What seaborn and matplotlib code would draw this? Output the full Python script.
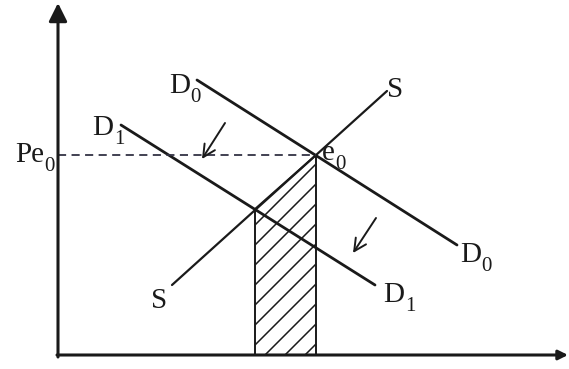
import pandas as pd
import matplotlib.pyplot as plt
import seaborn as sns

# Curves as (quantity, price) end points
d0_q = [13.9, 39.9]
d0_p = [27.5, 11.0]
d1_q = [6.3, 31.7]
d1_p = [23.0, 7.0]
s_q = [11.4, 32.9]
s_p = [7.0, 26.4]

# Equilibrium price and the shaded strip under the supply curve
pe0 = 20.0
e0_q = 25.8
shade_q = [19.7, 25.8]
shade_top = [14.6, 20.0]

# Demand shift arrows: (tail q, tail p, head q, head p)
shift_arrows = [(16.7, 23.2, 14.4, 19.6), (31.8, 13.7, 29.5, 10.2)]

# Axis extents
q_max = 51.0
p_max = 35.2

# render at 120 dpi so the hatch spacing matches; point sizes scaled back
DPI = 120
k = 100 / DPI

sns.set_style("white")
plt.rcParams['font.family'] = ['Liberation Serif', 'DejaVu Serif']
plt.rcParams['hatch.linewidth'] = 1.1 * k

ink = '#1a1a1a'

fig = plt.figure(figsize=(569 / DPI, 369 / DPI), dpi=DPI)
ax = fig.add_axes([0, 0, 1, 1])
ax.set_xlim(-5.8, 51.1)
ax.set_ylim(-1.4, 35.5)
ax.axis('off')

curves = pd.DataFrame({
    'Q': d0_q + d1_q + s_q,
    'P': d0_p + d1_p + s_p,
    'curve': ['D0'] * 2 + ['D1'] * 2 + ['S'] * 2,
})
sns.lineplot(data=curves[curves.curve != 'S'], x='Q', y='P', units='curve',
             estimator=None, color=ink, lw=2.0 * k, ax=ax)
sns.lineplot(data=curves[curves.curve == 'S'], x='Q', y='P',
             estimator=None, color=ink, lw=1.6 * k, ax=ax)

# hatched area
ax.fill_between(shade_q, 0, shade_top, facecolor='none', edgecolor=ink,
                hatch='//', lw=1.4 * k)

# dashed price line
ax.plot([0, e0_q], [pe0, pe0], ls=(0, (4.5, 3)), color='#333344', lw=1.3 * k)

# axes with arrows
ax.annotate('', xy=(0, p_max), xytext=(0, -0.2),
            arrowprops=dict(arrowstyle='-|>,head_length=0.5,head_width=0.25',
                            color=ink, lw=2.2 * k, mutation_scale=22 * k,
                            shrinkA=0, shrinkB=0))
ax.annotate('', xy=(q_max, 0), xytext=(-0.1, 0),
            arrowprops=dict(arrowstyle='-|>', color=ink, lw=2.2 * k,
                            mutation_scale=14 * k, shrinkA=0, shrinkB=0))

for tq, tp, hq, hp in shift_arrows:
    ax.annotate('', xy=(hq, hp), xytext=(tq, tp),
                arrowprops=dict(arrowstyle='->', color=ink, lw=1.4 * k,
                                mutation_scale=22 * k, shrinkA=0, shrinkB=0))


def label(q, p, main, sub=None, ha='left'):
    t = ax.text(q, p, main, ha=ha, va='baseline', fontsize=21 * k, color=ink)
    if sub is not None:
        ax.annotate(sub, xy=(1, 0), xycoords=t, xytext=(0.5 * k, -5.5 * k),
                    textcoords='offset points', ha='left', va='bottom',
                    fontsize=15 * k, color=ink)
    return t


label(-1.4, 19.3, 'Pe', '0', ha='right')
label(11.1, 26.2, 'D', '0')
label(3.4, 22.0, 'D', '1')
label(32.9, 25.8, 'S')
label(26.4, 19.5, 'e', '0')
label(9.3, 4.7, 'S')
label(40.2, 9.3, 'D', '0')
label(32.5, 5.3, 'D', '1')

plt.savefig('out.png', dpi=DPI)
